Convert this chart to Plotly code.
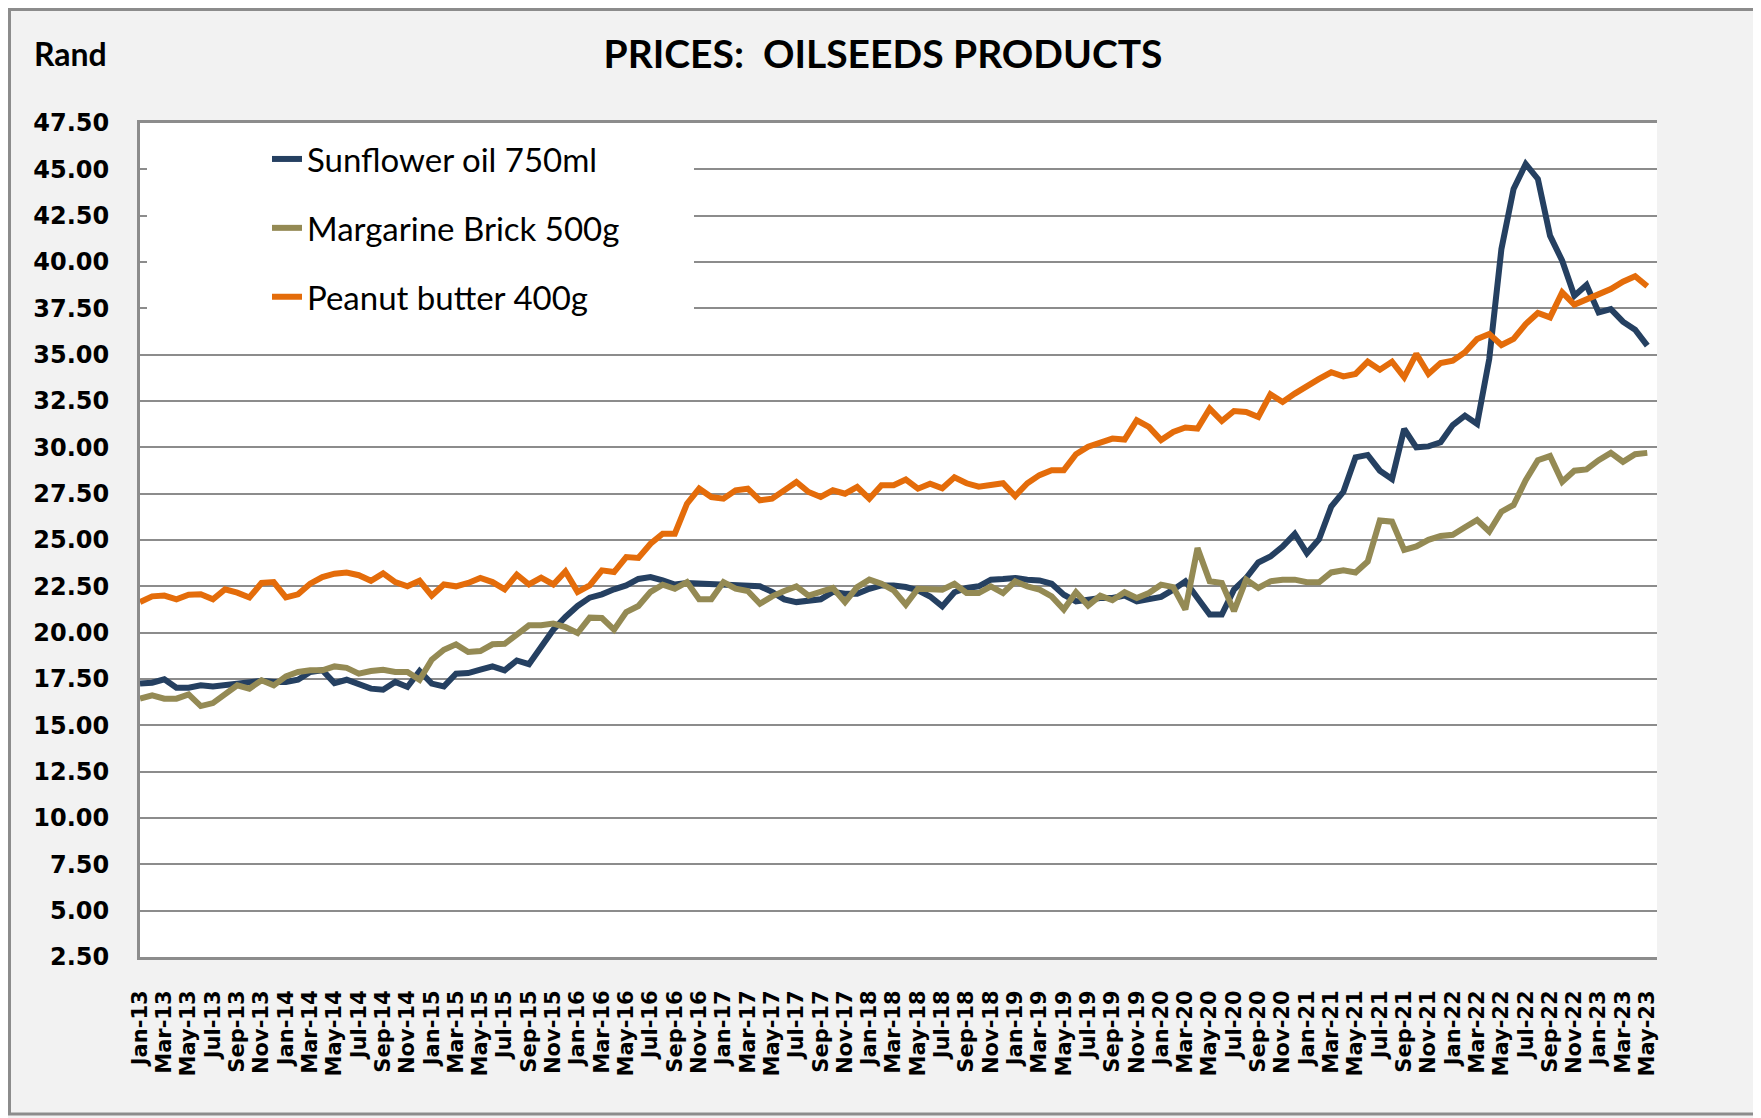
import plotly.graph_objects as go

# ---------------- data ----------------
month_names = ["Jan", "Feb", "Mar", "Apr", "May", "Jun", "Jul", "Aug", "Sep", "Oct", "Nov", "Dec"]
years = ["13", "14", "15", "16", "17", "18", "19", "20", "21", "22", "23"]
months = [f"{m}-{y}" for y in years for m in month_names][:125]  # Jan-13 .. May-23

sunflower_oil = [
    17.25, 17.30, 17.48, 17.03, 17.03, 17.16, 17.10, 17.16, 17.28, 17.28, 17.40, 17.34,
    17.34, 17.46, 17.88, 17.97, 17.28, 17.46, 17.20, 16.98, 16.92, 17.34, 17.07, 17.93,
    17.25, 17.10, 17.79, 17.82, 18.00, 18.18, 17.97, 18.50, 18.30, 19.23, 20.16, 20.85,
    21.44, 21.89, 22.07, 22.34, 22.55, 22.90, 23.00, 22.82, 22.60, 22.68, 22.64, 22.60,
    22.55, 22.55, 22.46, 22.50, 22.20, 21.80, 21.65, 21.70, 21.80, 22.20, 22.10, 22.10,
    22.37, 22.55, 22.55, 22.46, 22.28, 21.95, 21.42, 22.18, 22.41, 22.50, 22.86, 22.89,
    22.95, 22.86, 22.82, 22.64, 22.05, 21.69, 21.78, 21.87, 21.87, 22.00, 21.69, 21.78,
    21.93, 22.32, 22.77, 21.87, 20.98, 20.98, 22.32, 22.95, 23.79, 24.11, 24.65, 25.33,
    24.29, 25.04, 26.80, 27.60, 29.46, 29.59, 28.74, 28.29, 30.99, 30.00, 30.05, 30.27,
    31.20, 31.71, 31.26, 34.77, 40.70, 43.94, 45.29, 44.48, 41.42, 40.07, 38.18, 38.76,
    37.28, 37.46, 36.78, 36.35, 35.49,
]

margarine_brick = [
    16.44, 16.62, 16.44, 16.44, 16.67, 16.04, 16.20, 16.65, 17.16, 16.98, 17.43, 17.16,
    17.64, 17.88, 17.97, 17.97, 18.18, 18.10, 17.79, 17.93, 18.00, 17.88, 17.88, 17.46,
    18.54, 19.08, 19.37, 18.96, 19.01, 19.37, 19.40, 19.90, 20.40, 20.40, 20.49, 20.30,
    19.98, 20.81, 20.79, 20.16, 21.11, 21.44, 22.20, 22.59, 22.37, 22.73, 21.80, 21.80,
    22.73, 22.37, 22.25, 21.56, 21.96, 22.25, 22.50, 22.00, 22.20, 22.41, 21.65, 22.46,
    22.86, 22.64, 22.28, 21.51, 22.37, 22.37, 22.32, 22.64, 22.14, 22.14, 22.50, 22.14,
    22.77, 22.50, 22.32, 21.96, 21.25, 22.18, 21.46, 22.00, 21.75, 22.18, 21.87, 22.14,
    22.59, 22.46, 21.25, 24.56, 22.77, 22.68, 21.16, 22.86, 22.41, 22.77, 22.86, 22.86,
    22.72, 22.72, 23.25, 23.36, 23.25, 23.84, 26.05, 25.99, 24.47, 24.65, 25.01, 25.22,
    25.28, 25.69, 26.08, 25.46, 26.53, 26.89, 28.23, 29.31, 29.53, 28.14, 28.74, 28.81,
    29.31, 29.70, 29.22, 29.63, 29.70,
]

peanut_butter = [
    21.65, 21.96, 22.00, 21.80, 22.05, 22.07, 21.80, 22.34, 22.16, 21.90, 22.68, 22.73,
    21.90, 22.07, 22.64, 23.00, 23.18, 23.24, 23.10, 22.80, 23.20, 22.73, 22.50, 22.80,
    22.00, 22.60, 22.50, 22.68, 22.95, 22.73, 22.34, 23.13, 22.60, 22.97, 22.60, 23.30,
    22.20, 22.55, 23.36, 23.27, 24.08, 24.03, 24.80, 25.34, 25.34, 26.96, 27.77, 27.32,
    27.23, 27.68, 27.77, 27.14, 27.23, 27.68, 28.13, 27.59, 27.32, 27.68, 27.50, 27.86,
    27.23, 27.95, 27.95, 28.26, 27.77, 28.04, 27.79, 28.38, 28.06, 27.88, 27.97, 28.06,
    27.37, 28.06, 28.50, 28.77, 28.77, 29.63, 30.03, 30.24, 30.47, 30.42, 31.46, 31.10,
    30.39, 30.83, 31.07, 31.01, 32.09, 31.42, 31.96, 31.91, 31.64, 32.86, 32.45, 32.90,
    33.33, 33.69, 34.05, 33.83, 33.96, 34.62, 34.19, 34.62, 33.78, 35.04, 33.96, 34.55,
    34.68, 35.13, 35.85, 36.12, 35.52, 35.85, 36.65, 37.25, 37.01, 38.36, 37.70, 38.00,
    38.27, 38.54, 38.94, 39.23, 38.69,
]

series_names = ["Sunflower oil 750ml", "Margarine Brick 500g", "Peanut butter 400g"]
series_colors = ["#254061", "#948A54", "#E46C0A"]
tick_labels = months[::2]
y_ticks = [2.5 + 2.5 * k for k in range(19)]

# ---------------- layout geometry ----------------
OFF = 8                      # page body margin
W, H = 1753, 1110
L, T = 132, 115
PW, PH = 1517, 834
R, B = W - L - PW, H - T - PH


def px2x(px):                # page pixel -> paper x
    return (px - OFF - L) / PW


def py2y(py):                # page pixel -> paper y
    return (H - B - (py - OFF)) / PH


fig = go.Figure()
for name, vals, col in zip(series_names, [sunflower_oil, margarine_brick, peanut_butter], series_colors):
    fig.add_trace(go.Scatter(
        x=months, y=vals, name=name, mode="lines", legendgroup=name,
        line=dict(color=col, width=6),
    ))

fig.update_layout(
    width=W, height=H, autosize=False,
    margin=dict(l=L, r=R, t=T, b=B),
    paper_bgcolor="#F2F2F2", plot_bgcolor="#FFFFFF",
    title=dict(text="<b>PRICES:  OILSEEDS PRODUCTS</b>", x=px2x(883), xref="paper", xanchor="center",
               y=1 - (54 - OFF) / H, yref="container", yanchor="middle",
               font=dict(family="Lato", size=39, color="#000000")),
    showlegend=True,
    legend=dict(x=px2x(267), y=py2y(131), xanchor="left", yanchor="top",
                bgcolor="rgba(0,0,0,0)", font=dict(family="Lato", size=33, color="#000000"),
                tracegroupgap=23, itemwidth=30),
    xaxis=dict(
        type="category", range=[0, 124.8], tickmode="array", tickvals=tick_labels, ticktext=tick_labels,
        tickangle=-90, tickfont=dict(family="DejaVu Sans", size=21, color="#000000", weight="bold"),
        showgrid=False, showline=True, linecolor="#8C8C8C", linewidth=3, mirror=True,
        ticks="", ticklabelstandoff=22, zeroline=False,
    ),
    yaxis=dict(
        range=[2.5, 47.5], tickmode="array", tickvals=y_ticks, ticktext=[f"{v:.2f}" for v in y_ticks],
        tickfont=dict(family="DejaVu Sans", size=24, color="#000000", weight="bold"),
        showgrid=True, gridcolor="#8C8C8C", gridwidth=2,
        showline=True, linecolor="#8C8C8C", linewidth=3,
        ticks="inside", ticklen=6, tickcolor="#8C8C8C", tickwidth=2,
        ticklabelstandoff=23, zeroline=False,
    ),
    annotations=[dict(text="<b>Rand</b>", xref="paper", yref="paper", x=px2x(32), y=py2y(53),
                      xanchor="left", yanchor="middle", showarrow=False,
                      font=dict(family="Lato", size=32, color="#000000"))],
    shapes=[
        # white legend box covering the gridlines
        dict(type="rect", xref="paper", yref="paper", x0=px2x(147), x1=px2x(694), y0=py2y(334), y1=py2y(125.5),
             fillcolor="#FFFFFF", line=dict(width=0), layer="above"),
        # outer chart border
        dict(type="rect", xref="paper", yref="paper", x0=px2x(9.5), x1=px2x(1755), y0=py2y(1114), y1=py2y(9.5),
             fillcolor="rgba(0,0,0,0)", line=dict(color="#8C8C8C", width=3), layer="above"),
    ],
)

fig.write_html("out.html")
